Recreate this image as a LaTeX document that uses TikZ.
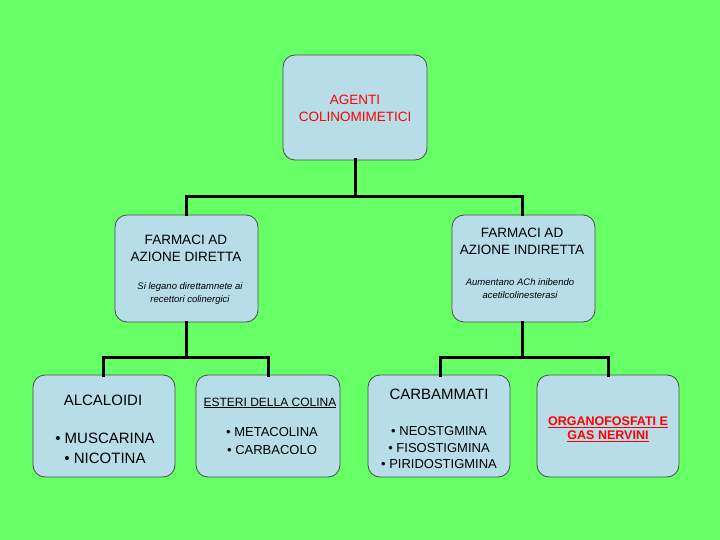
\documentclass[tikz,border=0pt]{standalone}
\usepackage{fontspec}
\setmainfont{Liberation Sans}
\definecolor{bg}{RGB}{102,255,102}
\definecolor{boxfill}{RGB}{183,222,232}
\begin{document}
\begin{tikzpicture}[x=1pt,y=-1pt,
  box/.style={draw=black!70,fill=boxfill,rounded corners=12pt,line width=0.8pt},
  conn/.style={line width=3pt,line cap=rect},
  txt/.style={align=center,font=\fontsize{13.5}{17}\selectfont},
  sm/.style={align=center,font=\itshape\fontsize{9.5}{13}\selectfont}]
\fill[bg] (0,0) rectangle (720,540);
\useasboundingbox (0,0) rectangle (720,540);
% boxes
\draw[box] (283,55) rectangle (427,160); \coordinate (top) at (355,160);
\draw[box] (115,215) rectangle (258,322);
\draw[box] (452,215) rectangle (595,322);
\foreach \a/\b in {33/175,196/340,368/510,537/679}
  \draw[box] (\a,375) rectangle (\b,477);
% connectors
\coordinate (lb) at (186,322); \coordinate (rb) at (522,322);
\draw[conn] (top) -- (355,197);
\draw[conn] (186,215) -- (186,197) -- (522,197) -- (522,215);
\draw[conn] (lb) -- (186,357);
\draw[conn] (103,375) -- (103,357) -- (268,357) -- (268,375);
\draw[conn] (rb) -- (522,357);
\draw[conn] (440,375) -- (440,357) -- (608,357) -- (608,375);
% texts
\node[txt,text=red] (t0) at (355,108) {AGENTI\\COLINOMIMETICI};
\node[txt] (t1) at (186,248) {FARMACI AD\\AZIONE DIRETTA};
\node[sm] (s1) at (190,294) {Si legano direttamnete ai\\recettori colinergici};
\node[txt] (t2) at (522,241) {FARMACI AD\\AZIONE INDIRETTA};
\node[sm] (s2) at (520,289) {Aumentano ACh inibendo\\acetilcolinesterasi};
\node[txt,font=\fontsize{15}{18}\selectfont] (a1) at (103,400) {ALCALOIDI};
\node[txt,font=\fontsize{15}{20}\selectfont] (a2) at (105,448) {• MUSCARINA\\• NICOTINA};
\node[txt,font=\fontsize{12}{14}\selectfont] (b1) at (270,403) {\underline{ESTERI DELLA COLINA}};
\node[txt,font=\fontsize{13}{18}\selectfont] (b2) at (272,441) {• METACOLINA\\• CARBACOLO};
\node[txt,font=\fontsize{15}{18}\selectfont] (c1) at (439,394) {CARBAMMATI};
\node[txt,font=\fontsize{13}{16.5}\selectfont] (c2) at (439,448) {• NEOSTGMINA\\• FISOSTIGMINA\\• PIRIDOSTIGMINA};
\node[txt,text=red,font=\bfseries\fontsize{12.5}{17}\selectfont] (d1) at (608,429) {\underline{ORGANOFOSFATI E}\\[-3pt]\underline{GAS NERVINI}};
\end{tikzpicture}
\end{document}
